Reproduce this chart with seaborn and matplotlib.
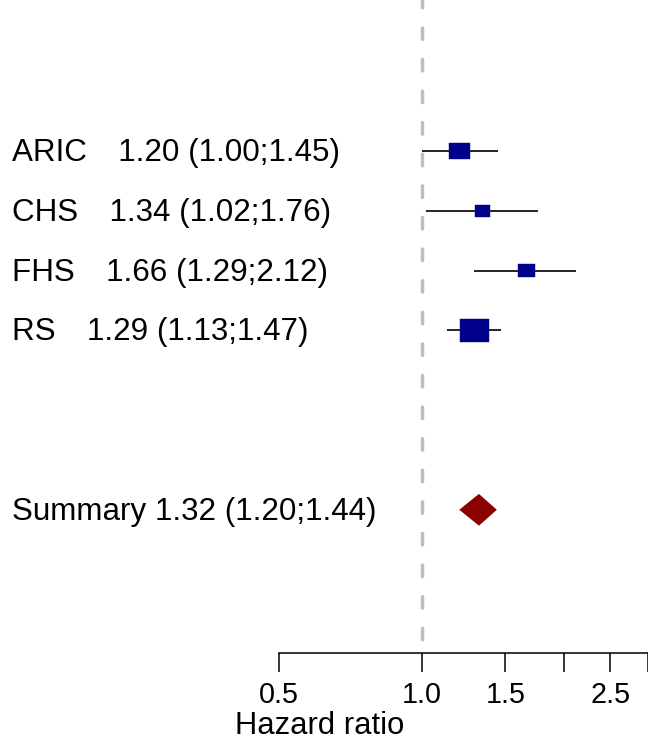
import matplotlib
matplotlib.use("Agg")
import matplotlib.pyplot as plt
import matplotlib.transforms as mtransforms
import seaborn as sns
import pandas as pd

# study estimates (hazard ratio and 95% CI)
studies = ["ARIC", "CHS", "FHS", "RS"]
hr = [1.20, 1.34, 1.66, 1.29]
lower = [1.00, 1.02, 1.29, 1.13]
upper = [1.45, 1.76, 2.12, 1.47]
summary_name = "Summary"
summary_hr = 1.32
summary_lower = 1.20
summary_upper = 1.44
tick_values = [0.5, 1.0, 1.5, 2.0, 2.5, 3.0]
tick_labels = ["0.5", "1.0", "1.5", "", "2.5", ""]

# layout (rows from top)
study_rows = [0, 1, 2, 3]
summary_row = 6
box_px = [21, 15, 17, 29]  # box widths in pixels

sns.set_theme(style="white")
plt.rcParams["font.family"] = ["Liberation Sans", "DejaVu Sans"]

W, H, DPI = 648, 747, 100
FS = 22.6
fig = plt.figure(figsize=(W / DPI, H / DPI), dpi=DPI)
ax = fig.add_axes([279 / W, (H - 653) / H, (648 - 279) / W, 653 / H])
ax.set_xscale("log")
ax.set_xlim(0.5, 3.0)
ax.set_ylim(8.395, -2.525)
for s in ["top", "left", "right"]:
    ax.spines[s].set_visible(False)
ax.spines["bottom"].set_linewidth(1.1)
ax.spines["bottom"].set_color("black")
ax.patch.set_alpha(0)

# reference line at HR = 1
ax.plot([1, 1], [-2.525, 8.395], color="#BEBEBE", lw=2.5,
        linestyle=(1.2, (3.3, 5.8)), dash_capstyle="round", zorder=1)

df = pd.DataFrame({"study": studies, "hr": hr, "lower": lower,
                   "upper": upper, "row": study_rows})

# confidence intervals
ax.hlines(df["row"], df["lower"], df["upper"], color="black", lw=1.2, zorder=2)

# study boxes
box = [(-1, -0.8), (1, -0.8), (1, 0.8), (-1, 0.8), (-1, -0.8)]
sizes = [(w * 0.72) ** 2 for w in box_px]
sns.scatterplot(data=df, x="hr", y="row", marker=box, s=sizes,
                color="#00008B", edgecolor="#00008B", linewidth=0.3,
                ax=ax, zorder=3, legend=False)

# summary diamond
half_h = 0.265
ax.fill([summary_lower, summary_hr, summary_upper, summary_hr],
        [summary_row, summary_row - half_h, summary_row, summary_row + half_h],
        color="#8B0000", lw=0, zorder=3)

# axis
ax.set_xticks(tick_values)
ax.set_xticklabels(tick_labels)
ax.xaxis.set_minor_locator(matplotlib.ticker.NullLocator())
ax.tick_params(axis="x", bottom=True, length=13.7, width=1.1, color="black",
               labelsize=20.7, pad=6.6, labelcolor="black")
ax.set_yticks([])
ax.set_xlabel("")
ax.set_ylabel("")

# left-hand labels (baseline a little below the row centre)
trans = mtransforms.blended_transform_factory(fig.transFigure, ax.transData)
trans = trans + mtransforms.ScaledTranslation(0, -10 / DPI, fig.dpi_scale_trans)
for name, h, lo, up, r in zip(studies, hr, lower, upper, study_rows):
    ax.text(12 / W, r, f"{name}\u2003{h:.2f} ({lo:.2f};{up:.2f})", transform=trans,
            ha="left", va="baseline", fontsize=FS, color="black", clip_on=False)
ax.text(12 / W, summary_row,
        f"{summary_name} {summary_hr:.2f} ({summary_lower:.2f};{summary_upper:.2f})",
        transform=trans, ha="left", va="baseline", fontsize=FS, color="black",
        clip_on=False)

fig.text(320 / W, 1 - 734 / H, "Hazard ratio", ha="center", va="baseline",
         fontsize=22.3, color="black")

fig.savefig("out.png", dpi=DPI)
